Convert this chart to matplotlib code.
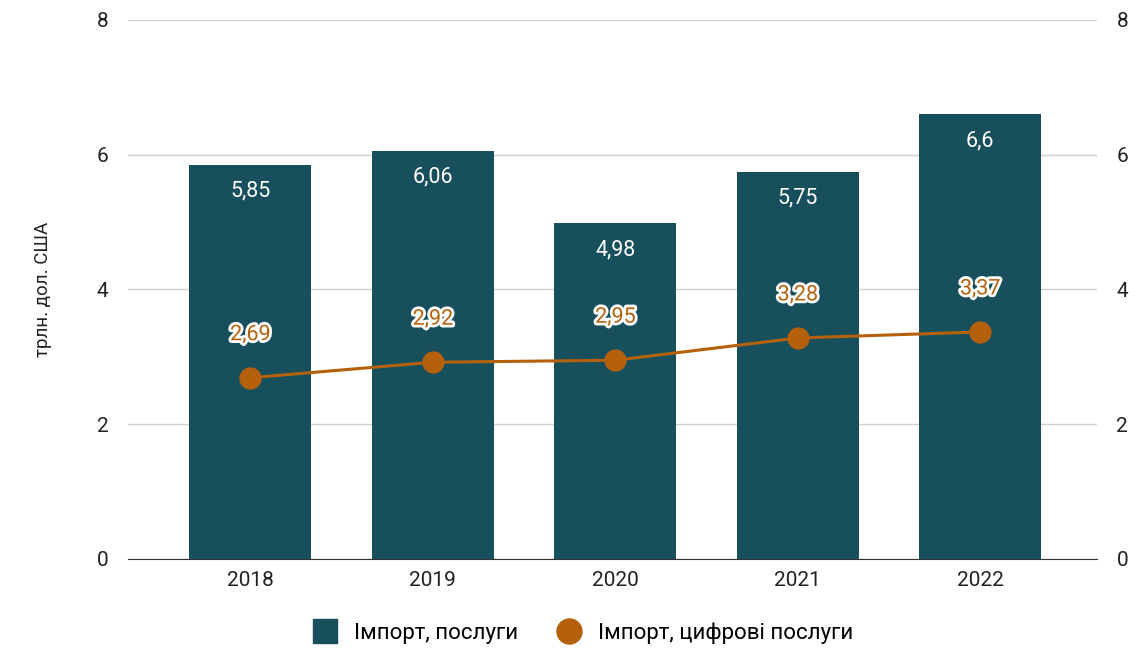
import numpy as np
import matplotlib.pyplot as plt
import matplotlib.patheffects as pe
from matplotlib.lines import Line2D

plt.rcParams['font.family'] = ['Roboto', 'DejaVu Sans']

years = ["2018", "2019", "2020", "2021", "2022"]
services = [5.85, 6.06, 4.98, 5.75, 6.6]
digital = [2.69, 2.92, 2.95, 3.28, 3.37]

bar_color = "#174F5C"
line_color = "#B5600B"
text_color = "#222222"

fig = plt.figure(figsize=(11.36, 6.49), dpi=100)
ax = fig.add_axes([0.1127, 0.1387, 0.853, 0.8305])
x = np.arange(len(years))

ax.bar(x, services, width=0.67, color=bar_color, zorder=2)
ax.plot(x, digital, color=line_color, lw=2.2, marker="o", markersize=15, zorder=3)

# value labels
for xi, v in zip(x, services):
    ax.annotate(f"{v:g}".replace(".", ","), (xi, v), xytext=(0, -19),
                textcoords="offset points", ha="center", va="center",
                color="white", fontsize=15.5, zorder=4)
for xi, v in zip(x, digital):
    ax.annotate(f"{v:.2f}".replace(".", ","), (xi, v), xytext=(0, 31),
                textcoords="offset points", ha="center", va="center",
                color=line_color, fontsize=15.5, zorder=4,
                path_effects=[pe.withStroke(linewidth=4, foreground="white")])

ax.set_ylim(0, 8)
ax.set_xlim(-0.67, 4.64)
ax.set_yticks([0, 2, 4, 6, 8])
ax.set_xticks(x)
ax.set_xticklabels(years)
ax.grid(axis="y", color="#D0D0D0", lw=1, zorder=0)
for s in ["top", "right", "left"]:
    ax.spines[s].set_visible(False)
ax.spines["bottom"].set_color("#333333")
ax.tick_params(axis="both", length=0, labelsize=15, colors=text_color, pad=9)
ax.tick_params(axis="y", pad=14)
ax.set_ylabel("трлн. дол. США", fontsize=13.5, color=text_color, labelpad=32)

ax2 = ax.twinx()
ax2.set_ylim(0, 8)
ax2.set_yticks([0, 2, 4, 6, 8])
for s in ax2.spines.values():
    s.set_visible(False)
ax2.tick_params(axis="y", length=0, labelsize=15, colors=text_color, pad=14)

handles = [
    Line2D([], [], ls="none", marker="s", markersize=17, color=bar_color),
    Line2D([], [], ls="none", marker="o", markersize=18, color=line_color),
]
ax.legend(handles, ["Імпорт, послуги", "Імпорт, цифрові послуги"],
          loc="upper center", bbox_to_anchor=(0.47, -0.08), ncol=2, frameon=False,
          fontsize=16, handlelength=1.0, handletextpad=0.8, columnspacing=1.8)

fig.savefig("out.png", dpi=100)
